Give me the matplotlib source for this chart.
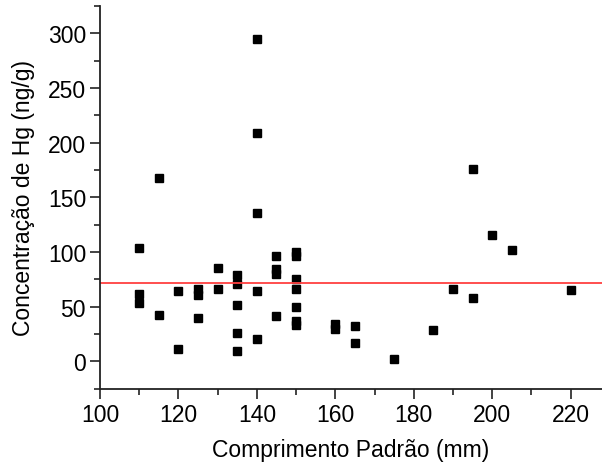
import matplotlib
matplotlib.use('Agg')
from matplotlib import pyplot as plt
from matplotlib.ticker import MultipleLocator

# comprimento padrao (mm) e concentracao de Hg (ng/g)
comprimento = [110, 110, 110, 115, 115, 120, 120, 125, 125, 125,
               130, 130, 135, 135, 135, 135, 135,
               140, 140, 140, 140, 140, 145, 145, 145, 145,
               150, 150, 150, 150, 150, 150, 150,
               160, 160, 165, 165, 175, 185, 190, 195, 195, 200, 205, 220]
hg = [104, 61.4, 53.5, 167.7, 42.8, 64.7, 11.2, 65.9, 61, 39.8,
      85.7, 66.2, 79, 71, 51.3, 25.8, 9.1,
      294.4, 208.8, 135.5, 64.7, 20.7, 96, 84.8, 80.2, 41.9,
      100, 96.6, 75.4, 66.2, 50.1, 37.1, 33.4,
      34.6, 29.8, 32.2, 16.4, 1.8, 28.9, 66.5, 176, 58, 115.8, 101.5, 65.6]
media = 72

plt.rcParams['font.family'] = ['Liberation Sans', 'DejaVu Sans']

fig = plt.figure(figsize=(6.02, 4.64), dpi=100)
ax = fig.add_axes([0.166, 0.16, 0.834, 0.825])

ax.plot(comprimento, hg, 's', color='black', markersize=5.5, linestyle='none')
ax.axhline(media, color='#ff4040', linewidth=1.3)

ax.set_xlim(100, 228)
ax.set_ylim(-25, 325)
ax.xaxis.set_major_locator(MultipleLocator(20))
ax.xaxis.set_minor_locator(MultipleLocator(10))
ax.yaxis.set_major_locator(MultipleLocator(50))
ax.yaxis.set_minor_locator(MultipleLocator(25))

for s in ['top', 'right']:
    ax.spines[s].set_visible(False)
for s in ['left', 'bottom']:
    ax.spines[s].set_linewidth(1.3)
    ax.spines[s].set_color('#222222')

ax.tick_params(which='major', direction='out', length=7, width=1.2, labelsize=16.5, colors='#222222', labelcolor='black', pad=3)
ax.tick_params(which='minor', direction='out', length=4, width=1.2, colors='#222222')

ax.set_xlabel('Comprimento Padrão (mm)', fontsize=16.5, labelpad=9)
ax.set_ylabel('Concentração de Hg (ng/g)', fontsize=16.5, labelpad=9)

fig.savefig('out.png', dpi=100)
